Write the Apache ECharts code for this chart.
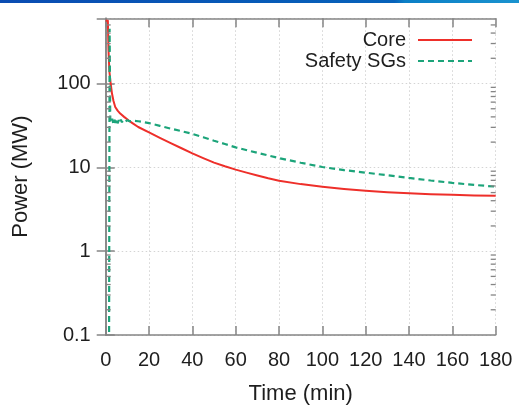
<!DOCTYPE html>
<html>
<head>
<meta charset="utf-8">
<title>Core and safety SG power</title>
<script src="https://cdn.jsdelivr.net/npm/echarts@6/dist/echarts.min.js"></script>
<style>
  html, body { margin: 0; padding: 0; background: #fff; }
  #chart { width: 519px; height: 410px; }
</style>
</head>
<body>
<div id="chart"></div>
<script>
// Time in minutes, power in MW
const coreTime  = [0, 1.0, 1.3, 1.7, 2.3, 2.9, 3.6, 4.4, 5.5, 6.7, 8.5, 10.5, 12.5, 15, 20, 25, 30, 35, 40, 45, 50, 55, 60, 65, 70, 75, 80, 90, 100, 110, 120, 130, 140, 150, 160, 170, 180];
const corePower = [560, 560, 250, 140, 100, 76, 62, 52.5, 47.5, 43.8, 40, 36.4, 33.5, 30.3, 26.1, 22.5, 19.5, 16.9, 14.7, 12.9, 11.4, 10.3, 9.4, 8.65, 7.98, 7.4, 6.92, 6.31, 5.87, 5.53, 5.26, 5.06, 4.9, 4.79, 4.7, 4.63, 4.59];

const sgTime  = [0, 1.5, 1.8, 2.1, 2.5, 3.0, 3.5, 4.0, 4.5, 5.0, 5.5, 6.0, 6.5, 7.0, 7.5, 8.0, 9.0, 10, 11, 13, 15, 20, 25, 30, 35, 40, 45, 50, 55, 60, 70, 80, 90, 100, 110, 120, 130, 140, 150, 160, 170, 180];
const sgPower = [0.01, 0.01, 450, 36, 34, 38, 33.5, 37, 34, 38, 33.5, 36.5, 34, 37, 34.5, 36.5, 35, 36.5, 35.5, 36, 35.5, 33.7, 31.3, 29.0, 27.0, 25.1, 22.9, 20.8, 19.0, 17.3, 14.9, 12.9, 11.35, 10.1, 9.27, 8.65, 8.04, 7.48, 6.97, 6.52, 6.17, 5.89];

const xTicks = [0, 20, 40, 60, 80, 100, 120, 140, 160, 180];
const yTickLabels = ['0.1', '1', '10', '100'];
const yMinorTicks = [0.2, 0.3, 0.4, 0.5, 0.6, 0.7, 0.8, 0.9,
                     2, 3, 4, 5, 6, 7, 8, 9,
                     20, 30, 40, 50, 60, 70, 80, 90,
                     200, 300, 400, 500];

const FONT = 'Liberation Sans, Arial, Helvetica, sans-serif';
const AXIS_COLOR = '#858585';
const GRID_COLOR = '#d4d4d4';
const TEXT_COLOR = '#1e1e1e';
const X_MIN = xTicks[0], X_MAX = xTicks[xTicks.length - 1];
const Y_MIN = 0.1, Y_MAX = 600;

const chart = echarts.init(document.getElementById('chart'), null, { renderer: 'canvas' });

function pair(xs, ys) { return xs.map((x, i) => [x, ys[i]]); }

function yLabel(v) {
  const hit = yTickLabels.find(s => Math.abs(Math.log10(parseFloat(s)) - Math.log10(v)) < 1e-6);
  return hit || '';
}

const commonY = {
  type: 'log', logBase: 10, min: Y_MIN, max: Y_MAX,
  axisLine: { show: true, lineStyle: { color: AXIS_COLOR, width: 1.5 } },
  axisTick: { show: true, inside: true, length: 9, lineStyle: { color: AXIS_COLOR, width: 1.5 } }
};
const commonX = {
  type: 'value', min: X_MIN, max: X_MAX, interval: 20,
  axisLine: { show: true, onZero: false, lineStyle: { color: AXIS_COLOR, width: 1.5 } },
  axisTick: { show: true, inside: true, length: 9, lineStyle: { color: AXIS_COLOR, width: 1.5 } }
};

const option = {
  backgroundColor: '#fff',
  animation: false,
  graphic: [{
    type: 'rect', left: 0, top: 0, z: 100,
    shape: { width: 519, height: 3 },
    style: {
      fill: new echarts.graphic.LinearGradient(0, 0, 1, 0, [
        { offset: 0, color: '#0a4cb2' },
        { offset: 0.76, color: '#0662ba' },
        { offset: 0.78, color: '#0b7fc6' },
        { offset: 1, color: '#1a93cf' }
      ])
    }
  }],
  grid: { left: 105.7, right: 23.3, top: 18.3, bottom: 74, containLabel: false },
  legend: {
    orient: 'vertical', right: 41, top: 25, align: 'right',
    itemWidth: 54, itemHeight: 12, itemGap: 1,
    itemStyle: { opacity: 0 },
    textStyle: { fontFamily: FONT, fontSize: 20, color: TEXT_COLOR, lineHeight: 20, padding: [0, 7, 0, 0] },
    data: ['Core', 'Safety SGs']
  },
  xAxis: [
    Object.assign({}, commonX, {
      position: 'bottom',
      name: 'Time (min)', nameLocation: 'middle', nameGap: 48,
      nameTextStyle: { fontFamily: FONT, fontSize: 22, color: TEXT_COLOR },
      axisLabel: { margin: 15, fontFamily: FONT, fontSize: 20, color: TEXT_COLOR },
      splitLine: { show: true, lineStyle: { color: GRID_COLOR, type: [1.5, 2.5], width: 1 } }
    }),
    Object.assign({}, commonX, {
      position: 'top', axisLabel: { show: false }, splitLine: { show: false }
    })
  ],
  yAxis: [
    Object.assign({}, commonY, {
      position: 'left',
      name: 'Power (MW)', nameLocation: 'middle', nameGap: 74,
      nameTextStyle: { fontFamily: FONT, fontSize: 22, color: TEXT_COLOR },
      axisLabel: { margin: 15, fontFamily: FONT, fontSize: 20, color: TEXT_COLOR, formatter: yLabel,
                   showMinLabel: true, showMaxLabel: false },
      splitLine: { show: true, lineStyle: { color: GRID_COLOR, type: [1.5, 2.5], width: 1 } }
    }),
    Object.assign({}, commonY, {
      position: 'right', axisLabel: { show: false }, splitLine: { show: false }
    })
  ],
  series: [
    {
      name: 'Core', type: 'line', xAxisIndex: 0, yAxisIndex: 0,
      data: pair(coreTime, corePower),
      showSymbol: false, symbol: 'none', smooth: false, clip: true, z: 3,
      lineStyle: { color: '#ee2f2a', width: 2, join: 'round' },
      itemStyle: { color: '#ee2f2a' }
    },
    {
      name: 'Safety SGs', type: 'line', xAxisIndex: 0, yAxisIndex: 0,
      data: pair(sgTime, sgPower),
      showSymbol: false, symbol: 'none', clip: true, z: 4,
      lineStyle: { color: '#1ca47a', width: 2.2, type: [6, 4] },
      itemStyle: { color: '#1ca47a' }
    },
    {
      // logarithmic minor ticks on the left and right frame
      name: 'minorTicks', type: 'custom', xAxisIndex: 0, yAxisIndex: 0,
      data: yMinorTicks.map(v => [X_MIN, v]),
      silent: true, clip: false, z: 5,
      renderItem: function (params, api) {
        const v = api.value(1);
        const l = api.coord([X_MIN, v]);
        const r = api.coord([X_MAX, v]);
        const style = { stroke: AXIS_COLOR, lineWidth: 1.3 };
        return {
          type: 'group',
          children: [
            { type: 'line', shape: { x1: l[0], y1: l[1], x2: l[0] + 5, y2: l[1] }, style: style },
            { type: 'line', shape: { x1: r[0], y1: r[1], x2: r[0] - 5, y2: r[1] }, style: style }
          ]
        };
      }
    }
  ]
};

chart.setOption(option);
</script>
</body>
</html>
